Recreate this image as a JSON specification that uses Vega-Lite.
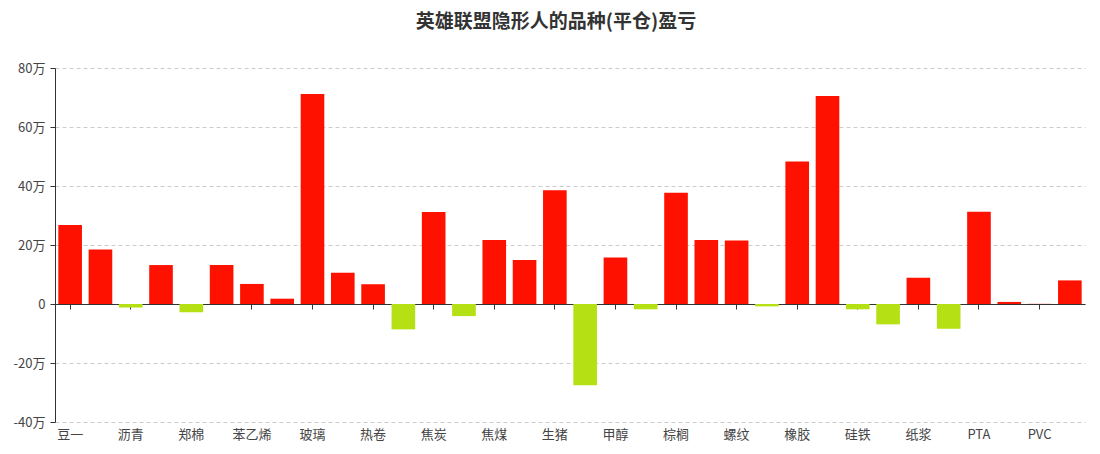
{
  "$schema": "https://vega.github.io/schema/vega-lite/v6.json",
  "width": 1030,
  "height": 354,
  "autosize": {"type": "none"},
  "padding": {"left": 55, "top": 68, "right": 15, "bottom": 32},
  "background": "white",
  "config": {"view": {"stroke": null}, "font": "Noto Sans CJK SC"},
  "title": {
    "text": "英雄联盟隐形人的品种(平仓)盈亏",
    "font": "Noto Sans CJK SC",
    "fontSize": 19,
    "fontWeight": "bold",
    "color": "#333333",
    "anchor": "middle",
    "frame": "group",
    "dx": -14,
    "offset": 30
  },
  "data": {
    "values": [
      {"name": "豆一", "pnl": 268000},
      {"name": "豆粕", "pnl": 185000},
      {"name": "沥青", "pnl": -12000},
      {"name": "菜粕", "pnl": 132000},
      {"name": "郑棉", "pnl": -28000},
      {"name": "白糖", "pnl": 132000},
      {"name": "苯乙烯", "pnl": 68000},
      {"name": "铁矿", "pnl": 18000},
      {"name": "玻璃", "pnl": 712000},
      {"name": "纯碱", "pnl": 106000},
      {"name": "热卷", "pnl": 67000},
      {"name": "沪铜", "pnl": -86000},
      {"name": "焦炭", "pnl": 312000},
      {"name": "乙二醇", "pnl": -41000},
      {"name": "焦煤", "pnl": 217000},
      {"name": "豆油", "pnl": 149000},
      {"name": "生猪", "pnl": 386000},
      {"name": "尿素", "pnl": -275000},
      {"name": "甲醇", "pnl": 158000},
      {"name": "菜油", "pnl": -18000},
      {"name": "棕榈", "pnl": 377000},
      {"name": "沪镍", "pnl": 217000},
      {"name": "螺纹", "pnl": 215000},
      {"name": "锰硅", "pnl": -8000},
      {"name": "橡胶", "pnl": 483000},
      {"name": "沪银", "pnl": 705000},
      {"name": "硅铁", "pnl": -18000},
      {"name": "沪锌", "pnl": -69000},
      {"name": "纸浆", "pnl": 89000},
      {"name": "塑料", "pnl": -84000},
      {"name": "PTA", "pnl": 313000},
      {"name": "沪铝", "pnl": 7000},
      {"name": "PVC", "pnl": 500},
      {"name": "聚丙烯", "pnl": 80000}
    ]
  },
  "mark": {"type": "bar"},
  "encoding": {
    "x": {
      "field": "name",
      "type": "nominal",
      "sort": null,
      "scale": {"paddingInner": 0.22, "paddingOuter": 0.11},
      "axis": {
        "title": null,
        "values": ["豆一", "沥青", "郑棉", "苯乙烯", "玻璃", "热卷", "焦炭", "焦煤", "生猪", "甲醇", "棕榈", "螺纹", "橡胶", "硅铁", "纸浆", "PTA", "PVC"],
        "offset": -118,
        "labelAngle": 0,
        "labelPadding": 119,
        "labelFontSize": 13,
        "labelColor": "#444444",
        "labelFont": "Noto Sans CJK SC",
        "domainColor": "#333333",
        "tickColor": "#333333",
        "tickSize": 5,
        "grid": false
      }
    },
    "y": {
      "field": "pnl",
      "type": "quantitative",
      "scale": {"domain": [-400000, 800000], "nice": false},
      "axis": {
        "title": null,
        "values": [-400000, -200000, 0, 200000, 400000, 600000, 800000],
        "labelExpr": "datum.value == 0 ? '0' : (datum.value / 10000) + '万'",
        "labelFontSize": 13,
        "labelColor": "#444444",
        "labelFont": "Noto Sans CJK SC",
        "labelPadding": 5,
        "domainColor": "#333333",
        "tickColor": "#333333",
        "tickSize": 5,
        "gridColor": "#cccccc",
        "gridDash": [4, 3],
        "gridWidth": 1
      }
    },
    "color": {
      "condition": {"test": "datum.pnl < 0", "value": "#b5e014"},
      "value": "#ff1100"
    }
  }
}
